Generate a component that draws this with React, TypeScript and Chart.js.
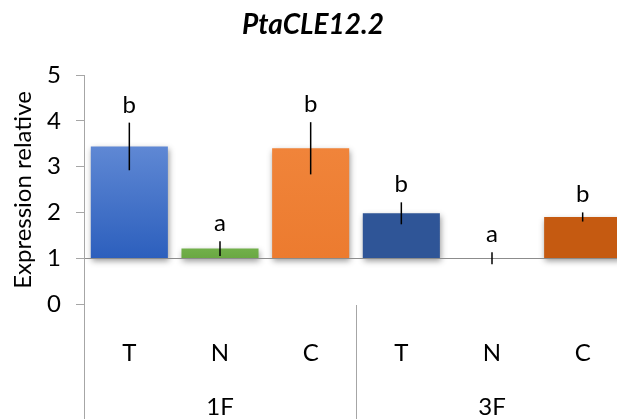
import React, { useEffect, useRef } from "react";
import { Chart, registerables } from "chart.js";

Chart.register(...registerables);

const TITLE = "PtaCLE12.2";
const Y_TITLE = "Expression relative";
const CATEGORIES = ["T", "N", "C", "T", "N", "C"];
const GROUPS = ["1F", "3F"];
const BASE = 1;
const VALUES = [3.44, 1.21, 3.4, 1.98, 1.0, 1.9];
const ERRORS = [0.52, 0.16, 0.57, 0.24, 0.13, 0.1];
const LETTERS = ["b", "a", "b", "b", "a", "b"];
const COLORS_TOP = ["#5f88d4", "#72b04a", "#f0843a", "#2f5597", "#a5a5a5", "#c55a11"];
const COLORS_BOTTOM = ["#2c5fbd", "#6aa843", "#ec7b2f", "#2f5597", "#a5a5a5", "#c55a11"];

const FONT = "Lato, Carlito, 'Liberation Sans', sans-serif";

export default function App() {
  const ref = useRef<HTMLCanvasElement | null>(null);

  useEffect(() => {
    document.body.style.margin = "0";
    const canvas = ref.current!;
    const decor = {
      id: "decor",
      beforeDatasetDraw(chart: any) {
        const ctx = chart.ctx;
        ctx.save();
        ctx.shadowColor = "rgba(0,0,0,0.4)";
        ctx.shadowBlur = 6;
        ctx.shadowOffsetX = 1;
        ctx.shadowOffsetY = 3;
      },
      afterDatasetDraw(chart: any) {
        chart.ctx.restore();
      },
      afterDraw(chart: any) {
        const ctx = chart.ctx;
        const x = chart.scales.x;
        const y = chart.scales.y;
        const area = chart.chartArea;
        ctx.save();
        // baseline at 1
        ctx.strokeStyle = "#8c8c8c";
        ctx.lineWidth = 1;
        const yb = Math.round(y.getPixelForValue(BASE)) + 0.5;
        ctx.beginPath();
        ctx.moveTo(area.left, yb);
        ctx.lineTo(area.right, yb);
        ctx.stroke();
        // vertical axis + group separator
        ctx.strokeStyle = "#a6a6a6";
        const xl = Math.round(area.left) + 0.5;
        ctx.beginPath();
        ctx.moveTo(xl, area.top);
        ctx.lineTo(xl, chart.height);
        ctx.stroke();
        const sepX = (x.getPixelForValue(2) + x.getPixelForValue(3)) / 2;
        ctx.beginPath();
        ctx.moveTo(Math.round(sepX) + 0.5, area.bottom + 1);
        ctx.lineTo(Math.round(sepX) + 0.5, chart.height);
        ctx.stroke();
        // error bars + letters
        ctx.strokeStyle = "#000";
        ctx.lineWidth = 1.5;
        ctx.fillStyle = "#000";
        ctx.font = `24px ${FONT}`;
        ctx.textAlign = "center";
        ctx.textBaseline = "alphabetic";
        VALUES.forEach((v, i) => {
          const px = x.getPixelForValue(i);
          const top = y.getPixelForValue(v + ERRORS[i]);
          const bot = y.getPixelForValue(v - ERRORS[i]);
          ctx.beginPath();
          ctx.moveTo(px, top);
          ctx.lineTo(px, bot);
          ctx.stroke();
          ctx.fillText(LETTERS[i], px, top - 10);
        });
        // group labels
        GROUPS.forEach((g, gi) => {
          const cx = (x.getPixelForValue(gi * 3) + x.getPixelForValue(gi * 3 + 2)) / 2;
          ctx.fillText(g, cx, 415);
        });
        // title
        ctx.font = `italic bold 28px ${FONT}`;
        ctx.fillText(TITLE, 313, 34);
        // y title
        ctx.font = `24px ${FONT}`;
        ctx.translate(23, 190);
        ctx.rotate(-Math.PI / 2);
        ctx.textBaseline = "middle";
        ctx.fillText(Y_TITLE, 0, 0);
        ctx.restore();
      },
    };

    const chart = new Chart(canvas, {
      type: "bar",
      data: {
        labels: CATEGORIES,
        datasets: [
          {
            data: VALUES.map((v) => [BASE, v]) as any,
            backgroundColor: (c: any) => {
              const i = c.dataIndex;
              const ch = c.chart;
              if (!ch.chartArea || i === undefined) return COLORS_BOTTOM[i ?? 0];
              const ys = ch.scales.y;
              const g = ch.ctx.createLinearGradient(0, ys.getPixelForValue(VALUES[i]), 0, ys.getPixelForValue(BASE));
              g.addColorStop(0, COLORS_TOP[i]);
              g.addColorStop(1, COLORS_BOTTOM[i]);
              return g;
            },
            borderWidth: 0,
            barPercentage: 0.85,
            categoryPercentage: 1,
          },
        ],
      },
      options: {
        responsive: false,
        animation: false,
        layout: { padding: { top: 75, right: 12, left: 0, bottom: 0 } },
        plugins: { legend: { display: false }, tooltip: { enabled: false }, title: { display: false } },
        scales: {
          x: {
            grid: { display: false },
            border: { display: false },
            ticks: { font: { family: FONT, size: 24 }, color: "#000", padding: 27 },
            afterFit: (s: any) => {
              s.height = 115;
            },
          },
          y: {
            min: 0,
            max: 5,
            ticks: { stepSize: 1, font: { family: FONT, size: 24 }, color: "#000", padding: 15 },
            grid: { drawOnChartArea: false, tickLength: 8, color: "#a6a6a6" },
            border: { display: false },
            afterFit: (s: any) => {
              s.width = 84;
            },
          },
        },
      },
      plugins: [decor],
    } as any);
    return () => chart.destroy();
  }, []);

  return (
    <div style={{ width: 617, height: 419, overflow: "hidden", position: "relative" }}>
      <canvas ref={ref} width={640} height={419} style={{ display: "block" }} />
    </div>
  );
}
